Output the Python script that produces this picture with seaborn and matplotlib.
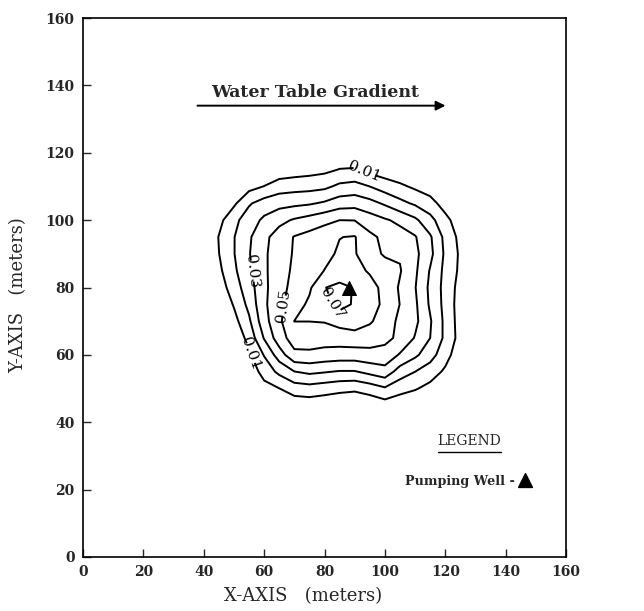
import numpy as np
import matplotlib
matplotlib.use("Agg")
import matplotlib.pyplot as plt
import seaborn as sns

# grid of the plume, 5 m spacing
x_m = [40, 45, 50, 55, 60, 65, 70, 75, 80, 85, 90, 95, 100, 105, 110, 115, 120, 125, 130]
y_m = [40, 45, 50, 55, 60, 65, 70, 75, 80, 85, 90, 95, 100, 105, 110, 115, 120]
conc = [
    [0, 0, 0, 0, 0, 0, 0, 0, 0, 0, 0, 0, 0, 0, 0, 0, 0, 0, 0],
    [0, 0, 0, 0, 0, 0, 0.0036, 0.0042, 0.0032, 0.002, 0.0012, 0.0026, 0.0052, 0.0036, 0.001, 0, 0, 0, 0],
    [0, 0, 0, 0.001, 0.0065, 0.0098, 0.0149, 0.016, 0.0144, 0.0128, 0.0119, 0.0146, 0.0187, 0.0135, 0.0109, 0.0068, 0.002, 0, 0],
    [0, 0, 0, 0.0036, 0.0138, 0.0224, 0.0297, 0.0321, 0.0307, 0.0292, 0.0292, 0.0328, 0.0362, 0.0253, 0.02, 0.015, 0.0082, 0, 0],
    [0, 0, 0, 0.0082, 0.0206, 0.035, 0.0476, 0.0479, 0.0463, 0.0456, 0.0456, 0.0467, 0.0463, 0.039, 0.032, 0.024, 0.014, 0.0034, 0],
    [0, 0, 0.0024, 0.0132, 0.0307, 0.0456, 0.0546, 0.0547, 0.0545, 0.0547, 0.0554, 0.0546, 0.0525, 0.0479, 0.0393, 0.030, 0.0178, 0.0062, 0],
    [0, 0, 0.0066, 0.0183, 0.0363, 0.0479, 0.0601, 0.0601, 0.0605, 0.0635, 0.0655, 0.0612, 0.0554, 0.0477, 0.0424, 0.031, 0.0176, 0.0056, 0],
    [0, 0.0008, 0.0109, 0.0228, 0.0381, 0.0475, 0.0556, 0.0618, 0.066, 0.0735, 0.0688, 0.0638, 0.058, 0.0498, 0.0418, 0.0285, 0.017, 0.0052, 0],
    [0, 0.0046, 0.0152, 0.0256, 0.0377, 0.0466, 0.053, 0.0585, 0.0697, 0.0725, 0.0694, 0.0635, 0.0572, 0.0488, 0.0405, 0.0278, 0.0167, 0.0062, 0],
    [0, 0.0078, 0.0181, 0.0282, 0.0382, 0.0459, 0.0517, 0.0559, 0.0602, 0.064, 0.063, 0.0589, 0.0548, 0.0507, 0.0418, 0.0292, 0.0173, 0.008, 0],
    [0, 0.0098, 0.0196, 0.0294, 0.0384, 0.0453, 0.0509, 0.0543, 0.0577, 0.0612, 0.0608, 0.0537, 0.0488, 0.049, 0.0425, 0.0327, 0.0182, 0.0084, 0],
    [0, 0.0104, 0.0196, 0.0286, 0.0375, 0.0446, 0.0505, 0.0533, 0.0561, 0.0598, 0.0606, 0.0522, 0.0477, 0.0442, 0.0408, 0.0313, 0.0172, 0.0072, 0],
    [0, 0.007, 0.0173, 0.0251, 0.032, 0.0372, 0.0411, 0.044, 0.0473, 0.05, 0.0498, 0.0449, 0.0412, 0.0377, 0.032, 0.0231, 0.0134, 0.0036, 0],
    [0, 0.003, 0.0082, 0.0189, 0.0243, 0.0266, 0.0277, 0.0289, 0.0314, 0.0354, 0.0362, 0.0333, 0.0286, 0.0228, 0.0185, 0.0141, 0.0052, 0, 0],
    [0, 0, 0.0016, 0.0066, 0.0103, 0.0151, 0.0161, 0.0166, 0.0178, 0.0222, 0.0237, 0.02, 0.0152, 0.012, 0.0082, 0.0044, 0, 0, 0],
    [0, 0, 0, 0, 0, 0.0036, 0.005, 0.0062, 0.0076, 0.0104, 0.0108, 0.0068, 0.0044, 0.002, 0, 0, 0, 0, 0],
    [0, 0, 0, 0, 0, 0, 0, 0, 0, 0.002, 0.003, 0, 0, 0, 0, 0, 0, 0, 0],
]
label_levels = [0.01, 0.03, 0.05, 0.07]
plain_levels = [0.02, 0.04, 0.06]

well_x = [88]
well_y = [80]

ticks = [0, 20, 40, 60, 80, 100, 120, 140, 160]

sns.set_style("ticks")
serif = "DejaVu Serif"

fig = plt.figure(figsize=(6.44, 6.11), dpi=100)
ax = fig.add_axes([0.1289, 0.0884, 0.75, 0.882])

Z = np.array(conc)
ax.contour(x_m, y_m, Z, levels=plain_levels, colors="black", linewidths=1.4)
cs = ax.contour(x_m, y_m, Z, levels=label_levels, colors="black", linewidths=1.4)
lbls = ax.clabel(cs, fmt="%.2f", fontsize=11, inline=True, inline_spacing=4,
                 manual=[(93, 114), (55.5, 60.5), (57, 85), (67, 74.5), (83.5, 75.5)])
for t in lbls:
    t.set_fontfamily(serif)

sns.scatterplot(x=well_x, y=well_y, marker="^", s=100, color="black", edgecolor="black", ax=ax, zorder=5)

# water table gradient arrow
ax.annotate("", xy=(121, 134), xytext=(37, 134),
            arrowprops=dict(arrowstyle="-|>", color="black", lw=1.4, mutation_scale=14))
ax.text(77, 135.3, "Water Table Gradient", ha="center", va="bottom", fontsize=12.5,
        fontweight="bold", family=serif)

# legend box
ax.text(128, 32.3, "LEGEND", ha="center", va="bottom", fontsize=10, family=serif)
ax.plot([117.5, 138.5], [31.2, 31.2], color="black", lw=1.0)
ax.text(143, 22.5, "Pumping Well -", ha="right", va="center", fontsize=9.2,
        fontweight="bold", family=serif)
ax.scatter([146.5], [22.8], marker="^", s=100, color="black", zorder=5)

ax.set_xlim(0, 160)
ax.set_ylim(0, 160)
ax.set_xticks(ticks)
ax.set_yticks(ticks)
ax.set_xticklabels([str(t) for t in ticks], fontweight="bold", family=serif, fontsize=10)
ax.set_yticklabels([str(t) for t in ticks], fontweight="bold", family=serif, fontsize=10)
ax.tick_params(direction="in", length=6, width=1, top=False, right=False, pad=6)
for s in ax.spines.values():
    s.set_linewidth(1.2)
    s.set_color("black")

ax.set_xlabel("X-AXIS   (meters)", family=serif, fontsize=13)
ax.set_ylabel("Y-AXIS   (meters)", family=serif, fontsize=13)
ax.xaxis.set_label_coords(0.455, -0.055)
ax.yaxis.set_label_coords(-0.115, 0.486)

fig.savefig("out.png", dpi=100)
